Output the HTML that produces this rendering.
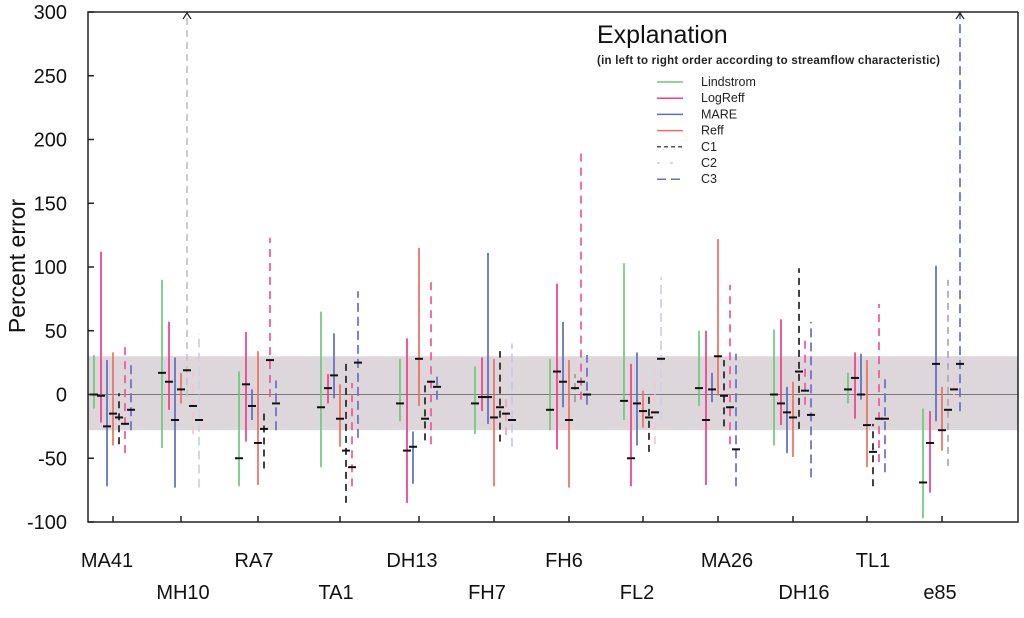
<!DOCTYPE html>
<html><head><meta charset="utf-8"><style>
html,body{margin:0;padding:0;background:#fff;}
svg text{font-family:"Liberation Sans",sans-serif;}
</style></head><body>
<svg id="chart" width="1024" height="613" viewBox="0 0 1024 613" xmlns="http://www.w3.org/2000/svg">
<rect x="0" y="0" width="1024" height="613" fill="#fff"/>
<g id="plot"></g>
</svg>
<script>
const categories=["MA41","MH10","RA7","TA1","DH13","FH7","FH6","FL2","MA26","DH16","TL1","e85"];
const seriesNames=["Lindstrom","LogReff","MARE","Reff","C1","C2","C3"];
const yTicks=[300,250,200,150,100,50,0,-50,-100];
const band=[-28,30];
// [low, mid, high] per category
const lindstrom=[[-11,0,31],[-42,17,90],[-72,-50,18],[-57,-10,65],[-21,-7,28],[-31,-7,22],[-28,-12,28],[-20,-5,103],[-9,5,50],[-40,0,51],[-7,4,17],[-97,-69,-11]];
const logreff=[[-22,-1,112],[-12,10,57],[-37,8,49],[-7,5,16],[-85,-44,44],[-13,-2,29],[-43,18,87],[-72,-50,24],[-71,-20,50],[-24,-7,59],[-19,13,33],[-77,-38,-13]];
const mare=[[-72,-25,27],[-73,-20,29],[-20,-9,4],[-3,15,48],[-70,-41,-29],[-23,-2,111],[-10,10,57],[-40,-7,33],[-6,4,17],[-46,-14,6],[-4,0,32],[-21,24,101]];
const reff=[[-40,-15,33],[-7,4,17],[-71,-38,34],[-41,-19,8],[-9,28,115],[-72,-18,28],[-73,-20,27],[-26,-13,3],[-1,30,122],[-49,-18,10],[-57,-24,27],[-44,-28,6]];
const c1=[[-39,-18,1],[-2,19,300],[-58,-27,-12],[-85,-44,27],[-36,-19,9],[-37,-10,34],[-6,5,16],[-45,-18,2],[-25,-1,27],[-27,18,99],[-72,-45,-23],[-56,-12,90]];
const c2=[[-46,-23,40],[-31,-9,18],[-2,27,123],[-72,-57,9],[-39,10,92],[-32,-15,1],[-4,10,191],[-39,-14,19],[-39,-10,86],[-8,3,45],[-53,-19,71],[-6,4,17]];
const c3=[[-28,-12,27],[-73,-20,48],[-28,-7,11],[-34,25,81],[-4,6,16],[-41,-20,40],[-8,0,31],[-20,28,92],[-72,-43,32],[-65,-16,57],[-61,-19,13],[-13,24,300]];
const allSeries=[lindstrom,logreff,mare,reff,c1,c2,c3];
const colors=["#6cc97a","#ee3d8a","#5a6fbf","#ec6f60","#222222","#f2559a","#6670c0"];
const override={"4-1":"#c4c4c4","5-1":"#f6c3d6","6-1":"#cfcfe6","4-6":"#9a9a9a","5-7":"#f8c6d8","6-7":"#cfcfe6","4-11":"#aaaaaa","5-11":"#f8c6d8","5-5":"#f0a0c0","6-5":"#c8c8e6"};
const dashes=["","","","","7,5","8,6","9,5"];
const offsets=[-19,-12,-6,0,6,12,18];
const tickX=[113,181,258,340,419,494,569,643,718,793,867,942];
const labelX=[107,183,254,336,412,487,564,637,727,804,873,940];

const L=88,T=12,R=1018,B=522;
function y(v){return T+(300-v)*(B-T)/400;}
function x(i){return tickX[i];}
const NS="http://www.w3.org/2000/svg";
const g=document.getElementById('plot');
function mk(tag,attrs,parent){const e=document.createElementNS(NS,tag);for(const k in attrs)e.setAttribute(k,attrs[k]);(parent||g).appendChild(e);return e;}

let e=mk('rect',{x:L,y:y(band[1]),width:R-L,height:y(band[0])-y(band[1]),fill:"#ddd6db"});


e=mk('line',{x1:L,x2:R,y1:y(0),y2:y(0),stroke:"#777",'stroke-width':1});



allSeries.forEach((s,k)=>{
  s.forEach((d,i)=>{
    const cx=x(i)+offsets[k];
    const top=Math.min(d[2],300);
    const col=override[k+"-"+i]||colors[k];
    let ln=mk('line',{x1:cx,x2:cx,y1:y(d[0]),y2:y(top),stroke:col,'stroke-width':1.7});
    if(dashes[k])ln.setAttribute('stroke-dasharray',dashes[k]);
    
    
    if(d[2]>=300){
      let ar=mk('polyline',{points:(cx-4)+','+(y(300)+7)+' '+cx+','+(y(300)+1)+' '+(cx+4)+','+(y(300)+7),fill:'none',stroke:'#222','stroke-width':1.2});
      
      
    }
    let m=mk('line',{x1:cx-4,x2:cx+4,y1:y(d[1]),y2:y(d[1]),stroke:'#111','stroke-width':2});
    
    
  });
});

e=mk('polyline',{points:R+','+T+' '+L+','+T+' '+L+','+B+' '+R+','+B+' '+R+','+T,fill:'none',stroke:'#222','stroke-width':1.5});


yTicks.forEach(v=>{
  let t=mk('line',{x1:L,x2:L+6,y1:y(v),y2:y(v),stroke:'#222','stroke-width':1.5});
  
  
  let tx=mk('text',{x:67,y:y(v)+7,'text-anchor':'end','font-size':20,fill:'#111'});
  tx.textContent=v;
  
  
});
categories.forEach((c,i)=>{
  let t=mk('line',{x1:x(i),x2:x(i),y1:B,y2:B-6,stroke:'#222','stroke-width':1.5});
  
  
  let tx=mk('text',{x:labelX[i],y:i%2===0?567:599,'text-anchor':'middle','font-size':20,fill:'#111'});
  tx.textContent=c;
  
  
});
e=mk('text',{x:0,y:0,transform:'translate(25,266) rotate(-90)','text-anchor':'middle','font-size':23,fill:'#111'});
e.textContent='Percent error';



const lg=mk('g',{});


e=mk('text',{x:597,y:43,'font-size':25,fill:'#111'},lg);
e.textContent='Explanation';


e=mk('text',{x:597,y:64,'font-size':11.5,'font-weight':'bold',fill:'#222',textLength:343},lg);
e.textContent='(in left to right order according to streamflow characteristic)';


const legendColors=["#6cc97a","#ee3d8a","#5a6fbf","#ec6f60","#555","#f7b6cf","#6670c0"];
const legendDash=["","","","","4,3","3,10","9,5"];
seriesNames.forEach((n,k)=>{
  const ly=82+k*16.2;
  let l=mk('line',{x1:657,x2:683,y1:ly,y2:ly,stroke:legendColors[k],'stroke-width':1.5},lg);
  if(legendDash[k])l.setAttribute('stroke-dasharray',legendDash[k]);
  
  
  let t=mk('text',{x:701,y:ly+4,'font-size':12.5,fill:'#222'},lg);
  t.textContent=n;
  
  
});
</script>
</body></html>
